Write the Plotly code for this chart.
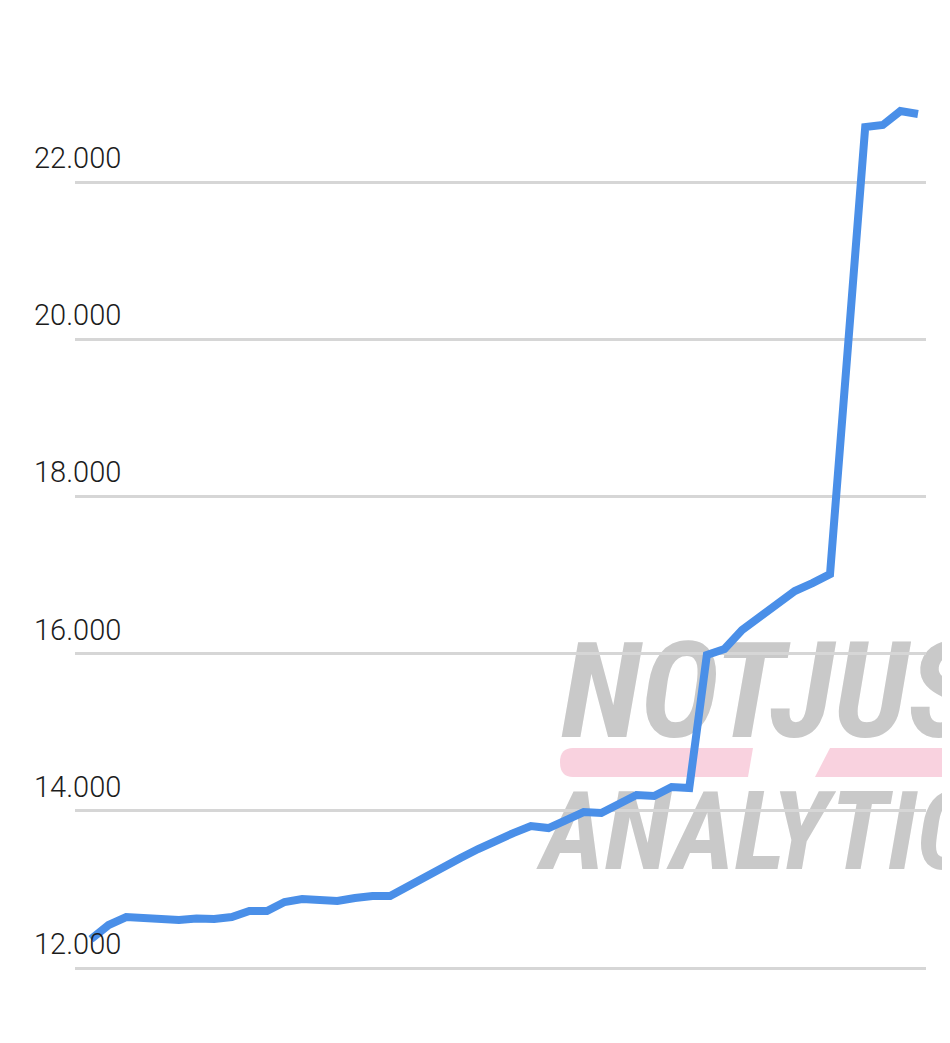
import plotly.graph_objects as go

# values (48 evenly spaced points, no x labels shown)
period = list(range(48))
value = [12369, 12547, 12649, 12636, 12623, 12611, 12630, 12625, 12649, 12725,
         12725, 12840, 12878, 12865, 12852, 12890, 12916, 12916, 13043, 13158,
         13285, 13399, 13514, 13628, 13717, 13806, 13781, 13883, 13985, 13972,
         14086, 14201, 14188, 14303, 14290, 15982, 16058, 16300, 16465, 16631,
         16796, 16898, 17012, 19849, 22699, 22725, 22903, 22865]

tick_vals = [12000, 14000, 16000, 18000, 20000, 22000]
tick_text = ['12.000', '14.000', '16.000', '18.000', '20.000', '22.000']

W, H = 950, 1043
OFF = 8  # page body margin
L, R, T, B = 67, 32, 22, 41


def px_x(p):
    return (p - OFF - L) / (W - L - R)


def px_y(p):
    return (H - B - (p - OFF)) / (H - T - B)


fig = go.Figure()
fig.add_trace(go.Scatter(x=period, y=value, mode='lines',
                         line=dict(color='#4A8FE8', width=8),
                         hoverinfo='skip', showlegend=False))

# tick labels sit above the gridlines, left aligned
for v, t in zip(tick_vals, tick_text):
    fig.add_annotation(xref='paper', x=px_x(32), xanchor='left',
                       yref='y', y=v, yanchor='bottom', yshift=5,
                       text=t, showarrow=False,
                       font=dict(family='Roboto', size=29, color='#1c1c1c', weight=300))

# watermark
wm_font = dict(family='Liberation Sans Narrow, Arial Narrow, Roboto Condensed, Roboto',
               color='#c9c9c9', weight='bold', style='italic')
pink = '#f9d2df'
fig.add_shape(type='path', xref='paper', yref='paper', layer='below', line_width=0,
              fillcolor=pink,
              path=(f'M {px_x(573)},{px_y(748)} L {px_x(753)},{px_y(748)} '
                    f'L {px_x(748)},{px_y(777)} L {px_x(573)},{px_y(777)} '
                    f'Q {px_x(560)},{px_y(777)} {px_x(560)},{px_y(762)} '
                    f'Q {px_x(560)},{px_y(748)} {px_x(573)},{px_y(748)} Z'))
fig.add_shape(type='path', xref='paper', yref='paper', layer='below', line_width=0,
              fillcolor=pink,
              path=(f'M {px_x(830)},{px_y(748)} L {px_x(980)},{px_y(748)} '
                    f'L {px_x(980)},{px_y(777)} L {px_x(815)},{px_y(777)} Z'))
fig.add_shape(type='rect', xref='paper', yref='paper', layer='below', line_width=0,
              x0=px_x(558), x1=px_x(1300), y0=px_y(741), y1=px_y(621),
              label=dict(text='NOTJUST', textposition='middle left', padding=0,
                         font=dict(size=134, **wm_font)))
fig.add_shape(type='rect', xref='paper', yref='paper', layer='below', line_width=0,
              x0=px_x(538), x1=px_x(1300), y0=px_y(872), y1=px_y(774),
              label=dict(text='ANALYTICS', textposition='middle left', padding=0,
                         font=dict(size=110, **wm_font)))

fig.update_layout(
    width=W, height=H,
    margin=dict(l=L, r=R, t=T, b=B),
    plot_bgcolor='white',
    paper_bgcolor='white',
    xaxis=dict(range=[-0.909, 47.455], showgrid=False, zeroline=False,
               showticklabels=False, showline=False),
    yaxis=dict(range=[11466, 23934], tickvals=tick_vals, showticklabels=False,
               gridcolor='#d6d6d6', gridwidth=2.5, zeroline=False, showline=False),
)

fig.write_html('out.html')
